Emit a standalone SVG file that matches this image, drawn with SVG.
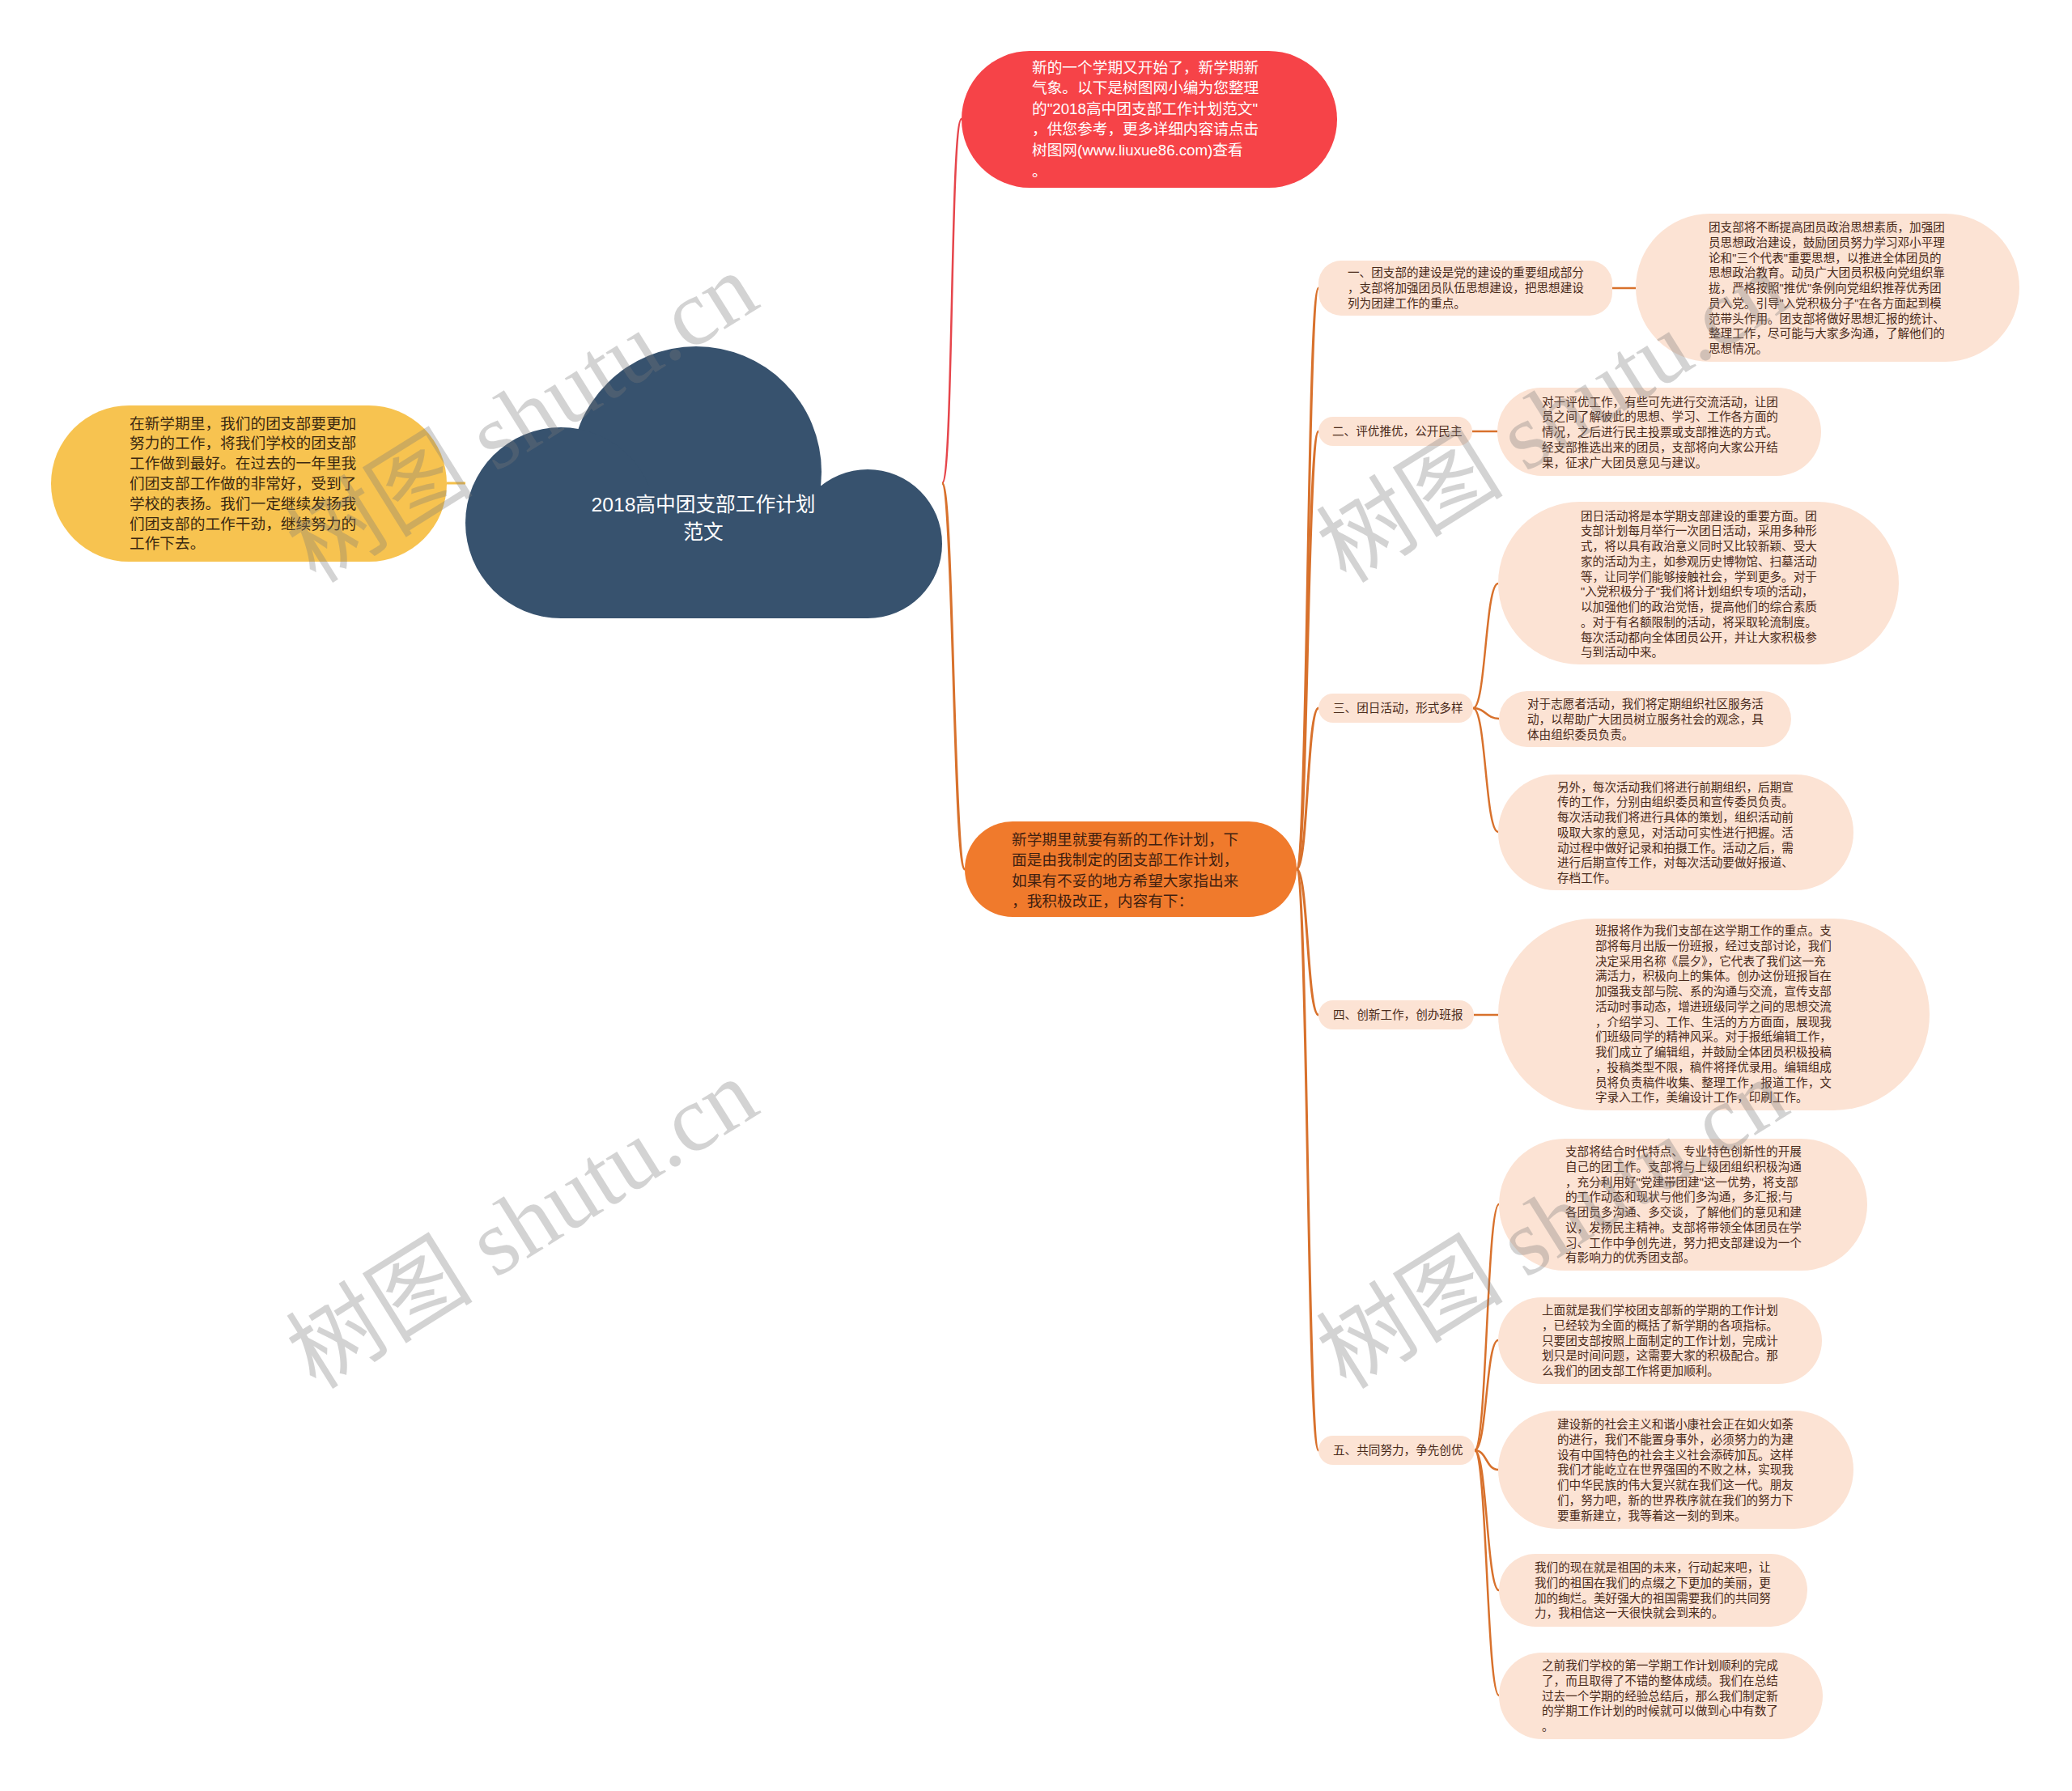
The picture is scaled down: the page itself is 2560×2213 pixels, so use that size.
<svg xmlns="http://www.w3.org/2000/svg" width="2560" height="2213" viewBox="0 0 2560 2213">
<style>
.t{font-family:"Liberation Sans","Noto Sans CJK SC",sans-serif;}
.s{font-size:14.6px;fill:#4a2a1a;}
.b{font-size:18.7px;}
.peach{fill:#fce3d4;}
.ln{fill:none;stroke:#d8712c;stroke-width:3;}
.lf{fill:none;stroke:#d8712c;stroke-width:2.5;}
.wm{font-family:"Liberation Serif","Noto Sans CJK SC",serif;font-size:116px;fill:#7a7a7a;opacity:0.32;}
</style>
<rect width="2560" height="2213" fill="#ffffff"/>
<g id="connectors">
<path d="M1164 597 C1178 597,1174 147,1188 147" fill="none" stroke="#e6454b" stroke-width="2.5"/>
<path d="M1164 597 C1178 597,1178 1074,1192 1074" class="ln"/>
<path d="M552 597 L575 597" fill="none" stroke="#f5c04a" stroke-width="3"/>
<path d="M1602 1074 C1616 1074,1615 356,1629 356" class="ln"/>
<path d="M1602 1074 C1616 1074,1615 533,1629 533" class="ln"/>
<path d="M1602 1074 C1616 1074,1615 875,1629 875" class="ln"/>
<path d="M1602 1074 C1616 1074,1615 1254,1629 1254" class="ln"/>
<path d="M1602 1074 C1616 1074,1615 1792,1629 1792" class="ln"/>
<path d="M1992 356 L2021 356" class="lf"/>
<path d="M1819 533 L1850 533" class="lf"/>
<path d="M1820 875 C1836 875,1835 721,1851 721" class="lf"/>
<path d="M1820 875 C1836 875,1836 888,1852 888" class="lf"/>
<path d="M1820 875 C1836 875,1835 1028,1851 1028" class="lf"/>
<path d="M1821 1254 L1851 1254" class="lf"/>
<path d="M1822 1792 C1837 1792,1837 1488,1852 1488" class="lf"/>
<path d="M1822 1792 C1837 1792,1836 1656,1851 1656" class="lf"/>
<path d="M1822 1792 C1837 1792,1836 1816,1851 1816" class="lf"/>
<path d="M1822 1792 C1837 1792,1837 1965,1852 1965" class="lf"/>
<path d="M1822 1792 C1837 1792,1837 2095,1852 2095" class="lf"/>
</g>
<g id="root">
<g fill="#37526e">
<circle cx="860" cy="583" r="155"/>
<circle cx="693" cy="646" r="118"/>
<circle cx="1072" cy="672" r="92"/>
<rect x="693" y="600" width="379" height="164"/>
</g>
<text class="t" x="869" y="632" text-anchor="middle" font-size="24.7" fill="#ffffff">2018高中团支部工作计划</text>
<text class="t" x="869" y="666" text-anchor="middle" font-size="24.7" fill="#ffffff">范文</text>
</g>
<g id="intro">
<rect x="1188" y="63" width="464" height="169" rx="84.5" fill="#f64348"/>
<text class="t b" fill="#ffffff"><tspan x="1275" y="89.5">新的一个学期又开始了，新学期新</tspan><tspan x="1275" y="115.1">气象。以下是树图网小编为您整理</tspan><tspan x="1275" y="140.7">的"2018高中团支部工作计划范文"</tspan><tspan x="1275" y="166.3">，供您参考，更多详细内容请点击</tspan><tspan x="1275" y="191.9">树图网(www.liuxue86.com)查看</tspan><tspan x="1275" y="217.5">。</tspan></text>
</g>
<g id="summary">
<rect x="63" y="501" width="489" height="193" rx="96.5" fill="#f7c350"/>
<text class="t b" fill="#3a2810"><tspan x="160" y="529.5">在新学期里，我们的团支部要更加</tspan><tspan x="160" y="554.3">努力的工作，将我们学校的团支部</tspan><tspan x="160" y="579.1">工作做到最好。在过去的一年里我</tspan><tspan x="160" y="603.9">们团支部工作做的非常好，受到了</tspan><tspan x="160" y="628.7">学校的表扬。我们一定继续发扬我</tspan><tspan x="160" y="653.5">们团支部的工作干劲，继续努力的</tspan><tspan x="160" y="678.3">工作下去。</tspan></text>
</g>
<g id="plan">
<rect x="1192" y="1015" width="410" height="118" rx="59" fill="#f07a2c"/>
<text class="t b" fill="#3f2010"><tspan x="1250" y="1043.5">新学期里就要有新的工作计划，下</tspan><tspan x="1250" y="1069">面是由我制定的团支部工作计划，</tspan><tspan x="1250" y="1094.5">如果有不妥的地方希望大家指出来</tspan><tspan x="1250" y="1120">，我积极改正，内容有下：</tspan></text>
</g>
<g id="sec1">
<rect class="peach" x="1629" y="322" width="363" height="68" rx="28"/>
<text class="t s"><tspan x="1665" y="342">一、团支部的建设是党的建设的重要组成部分</tspan><tspan x="1665" y="361">，支部将加强团员队伍思想建设，把思想建设</tspan><tspan x="1665" y="380">列为团建工作的重点。</tspan></text>
</g>
<g id="leaf1">
<rect class="peach" x="2021" y="264" width="474" height="183" rx="91.5"/>
<text class="t s"><tspan x="2111" y="286">团支部将不断提高团员政治思想素质，加强团</tspan><tspan x="2111" y="304.75">员思想政治建设，鼓励团员努力学习邓小平理</tspan><tspan x="2111" y="323.5">论和"三个代表"重要思想，以推进全体团员的</tspan><tspan x="2111" y="342.25">思想政治教育。动员广大团员积极向党组织靠</tspan><tspan x="2111" y="361">拢，严格按照"推优"条例向党组织推荐优秀团</tspan><tspan x="2111" y="379.75">员入党。引导"入党积极分子"在各方面起到模</tspan><tspan x="2111" y="398.5">范带头作用。团支部将做好思想汇报的统计、</tspan><tspan x="2111" y="417.25">整理工作，尽可能与大家多沟通，了解他们的</tspan><tspan x="2111" y="436">思想情况。</tspan></text>
</g>
<g id="sec2">
<rect class="peach" x="1629" y="515" width="190" height="36" rx="18"/>
<text class="t s" x="1646" y="538">二、评优推优，公开民主</text>
</g>
<g id="leaf2">
<rect class="peach" x="1850" y="479" width="400" height="109" rx="54.5"/>
<text class="t s"><tspan x="1905" y="501.5">对于评优工作，有些可先进行交流活动，让团</tspan><tspan x="1905" y="520.25">员之间了解彼此的思想、学习、工作各方面的</tspan><tspan x="1905" y="539">情况，之后进行民主投票或支部推选的方式。</tspan><tspan x="1905" y="557.75">经支部推选出来的团员，支部将向大家公开结</tspan><tspan x="1905" y="576.5">果，征求广大团员意见与建议。</tspan></text>
</g>
<g id="sec3">
<rect class="peach" x="1629" y="857" width="191" height="36" rx="18"/>
<text class="t s" x="1647" y="880">三、团日活动，形式多样</text>
</g>
<g id="leaf3a">
<rect class="peach" x="1851" y="620" width="495" height="201" rx="100.5"/>
<text class="t s"><tspan x="1953" y="642.5">团日活动将是本学期支部建设的重要方面。团</tspan><tspan x="1953" y="661.25">支部计划每月举行一次团日活动，采用多种形</tspan><tspan x="1953" y="680">式，将以具有政治意义同时又比较新颖、受大</tspan><tspan x="1953" y="698.75">家的活动为主，如参观历史博物馆、扫墓活动</tspan><tspan x="1953" y="717.5">等，让同学们能够接触社会，学到更多。对于</tspan><tspan x="1953" y="736.25">"入党积极分子"我们将计划组织专项的活动，</tspan><tspan x="1953" y="755">以加强他们的政治觉悟，提高他们的综合素质</tspan><tspan x="1953" y="773.75">。对于有名额限制的活动，将采取轮流制度。</tspan><tspan x="1953" y="792.5">每次活动都向全体团员公开，并让大家积极参</tspan><tspan x="1953" y="811.25">与到活动中来。</tspan></text>
</g>
<g id="leaf3b">
<rect class="peach" x="1852" y="854" width="361" height="69" rx="34.5"/>
<text class="t s"><tspan x="1887" y="875">对于志愿者活动，我们将定期组织社区服务活</tspan><tspan x="1887" y="893.75">动，以帮助广大团员树立服务社会的观念，具</tspan><tspan x="1887" y="912.5">体由组织委员负责。</tspan></text>
</g>
<g id="leaf3c">
<rect class="peach" x="1851" y="957" width="439" height="143" rx="71.5"/>
<text class="t s"><tspan x="1924" y="977.5">另外，每次活动我们将进行前期组织，后期宣</tspan><tspan x="1924" y="996.25">传的工作，分别由组织委员和宣传委员负责。</tspan><tspan x="1924" y="1015">每次活动我们将进行具体的策划，组织活动前</tspan><tspan x="1924" y="1033.75">吸取大家的意见，对活动可实性进行把握。活</tspan><tspan x="1924" y="1052.5">动过程中做好记录和拍摄工作。活动之后，需</tspan><tspan x="1924" y="1071.25">进行后期宣传工作，对每次活动要做好报道、</tspan><tspan x="1924" y="1090">存档工作。</tspan></text>
</g>
<g id="sec4">
<rect class="peach" x="1629" y="1236" width="192" height="36" rx="18"/>
<text class="t s" x="1647" y="1259">四、创新工作，创办班报</text>
</g>
<g id="leaf4">
<rect class="peach" x="1851" y="1135" width="533" height="237" rx="118.5"/>
<text class="t s"><tspan x="1971" y="1155">班报将作为我们支部在这学期工作的重点。支</tspan><tspan x="1971" y="1173.75">部将每月出版一份班报，经过支部讨论，我们</tspan><tspan x="1971" y="1192.5">决定采用名称《晨夕》，它代表了我们这一充</tspan><tspan x="1971" y="1211.25">满活力，积极向上的集体。创办这份班报旨在</tspan><tspan x="1971" y="1230">加强我支部与院、系的沟通与交流，宣传支部</tspan><tspan x="1971" y="1248.75">活动时事动态，增进班级同学之间的思想交流</tspan><tspan x="1971" y="1267.5">，介绍学习、工作、生活的方方面面，展现我</tspan><tspan x="1971" y="1286.25">们班级同学的精神风采。对于报纸编辑工作，</tspan><tspan x="1971" y="1305">我们成立了编辑组，并鼓励全体团员积极投稿</tspan><tspan x="1971" y="1323.75">，投稿类型不限，稿件将择优录用。编辑组成</tspan><tspan x="1971" y="1342.5">员将负责稿件收集、整理工作，报道工作，文</tspan><tspan x="1971" y="1361.25">字录入工作，美编设计工作，印刷工作。</tspan></text>
</g>
<g id="sec5">
<rect class="peach" x="1629" y="1774" width="193" height="36" rx="18"/>
<text class="t s" x="1647" y="1797">五、共同努力，争先创优</text>
</g>
<g id="leaf5a">
<rect class="peach" x="1852" y="1407" width="455" height="163" rx="81.5"/>
<text class="t s"><tspan x="1934" y="1428">支部将结合时代特点、专业特色创新性的开展</tspan><tspan x="1934" y="1446.75">自己的团工作。支部将与上级团组织积极沟通</tspan><tspan x="1934" y="1465.5">，充分利用好"党建带团建"这一优势，将支部</tspan><tspan x="1934" y="1484.25">的工作动态和现状与他们多沟通，多汇报;与</tspan><tspan x="1934" y="1503">各团员多沟通、多交谈，了解他们的意见和建</tspan><tspan x="1934" y="1521.75">议，发扬民主精神。支部将带领全体团员在学</tspan><tspan x="1934" y="1540.5">习、工作中争创先进，努力把支部建设为一个</tspan><tspan x="1934" y="1559.25">有影响力的优秀团支部。</tspan></text>
</g>
<g id="leaf5b">
<rect class="peach" x="1851" y="1603" width="400" height="107" rx="53.5"/>
<text class="t s"><tspan x="1905" y="1624">上面就是我们学校团支部新的学期的工作计划</tspan><tspan x="1905" y="1642.75">，已经较为全面的概括了新学期的各项指标。</tspan><tspan x="1905" y="1661.5">只要团支部按照上面制定的工作计划，完成计</tspan><tspan x="1905" y="1680.25">划只是时间问题，这需要大家的积极配合。那</tspan><tspan x="1905" y="1699">么我们的团支部工作将更加顺利。</tspan></text>
</g>
<g id="leaf5c">
<rect class="peach" x="1851" y="1743" width="439" height="146" rx="73"/>
<text class="t s"><tspan x="1924" y="1765">建设新的社会主义和谐小康社会正在如火如荼</tspan><tspan x="1924" y="1783.75">的进行，我们不能置身事外，必须努力的为建</tspan><tspan x="1924" y="1802.5">设有中国特色的社会主义社会添砖加瓦。这样</tspan><tspan x="1924" y="1821.25">我们才能屹立在世界强国的不败之林，实现我</tspan><tspan x="1924" y="1840">们中华民族的伟大复兴就在我们这一代。朋友</tspan><tspan x="1924" y="1858.75">们，努力吧，新的世界秩序就在我们的努力下</tspan><tspan x="1924" y="1877.5">要重新建立，我等着这一刻的到来。</tspan></text>
</g>
<g id="leaf5d">
<rect class="peach" x="1852" y="1920" width="381" height="90" rx="45"/>
<text class="t s"><tspan x="1896" y="1942">我们的现在就是祖国的未来，行动起来吧，让</tspan><tspan x="1896" y="1960.75">我们的祖国在我们的点缀之下更加的美丽，更</tspan><tspan x="1896" y="1979.5">加的绚烂。美好强大的祖国需要我们的共同努</tspan><tspan x="1896" y="1998.25">力，我相信这一天很快就会到来的。</tspan></text>
</g>
<g id="leaf5e">
<rect class="peach" x="1852" y="2042" width="400" height="107" rx="53.5"/>
<text class="t s"><tspan x="1905" y="2063">之前我们学校的第一学期工作计划顺利的完成</tspan><tspan x="1905" y="2081.75">了，而且取得了不错的整体成绩。我们在总结</tspan><tspan x="1905" y="2100.5">过去一个学期的经验总结后，那么我们制定新</tspan><tspan x="1905" y="2119.25">的学期工作计划的时候就可以做到心中有数了</tspan><tspan x="1905" y="2138">。</tspan></text>
</g>
<g id="watermarks">
<text class="wm" text-anchor="middle" transform="translate(645 516) rotate(-32)" y="40">树图 shutu.cn</text>
<text class="wm" text-anchor="middle" transform="translate(1918 516) rotate(-32)" y="40">树图 shutu.cn</text>
<text class="wm" text-anchor="middle" transform="translate(645 1512) rotate(-32)" y="40">树图 shutu.cn</text>
<text class="wm" text-anchor="middle" transform="translate(1918 1512) rotate(-32)" y="40">树图 shutu.cn</text>
</g>
</svg>
